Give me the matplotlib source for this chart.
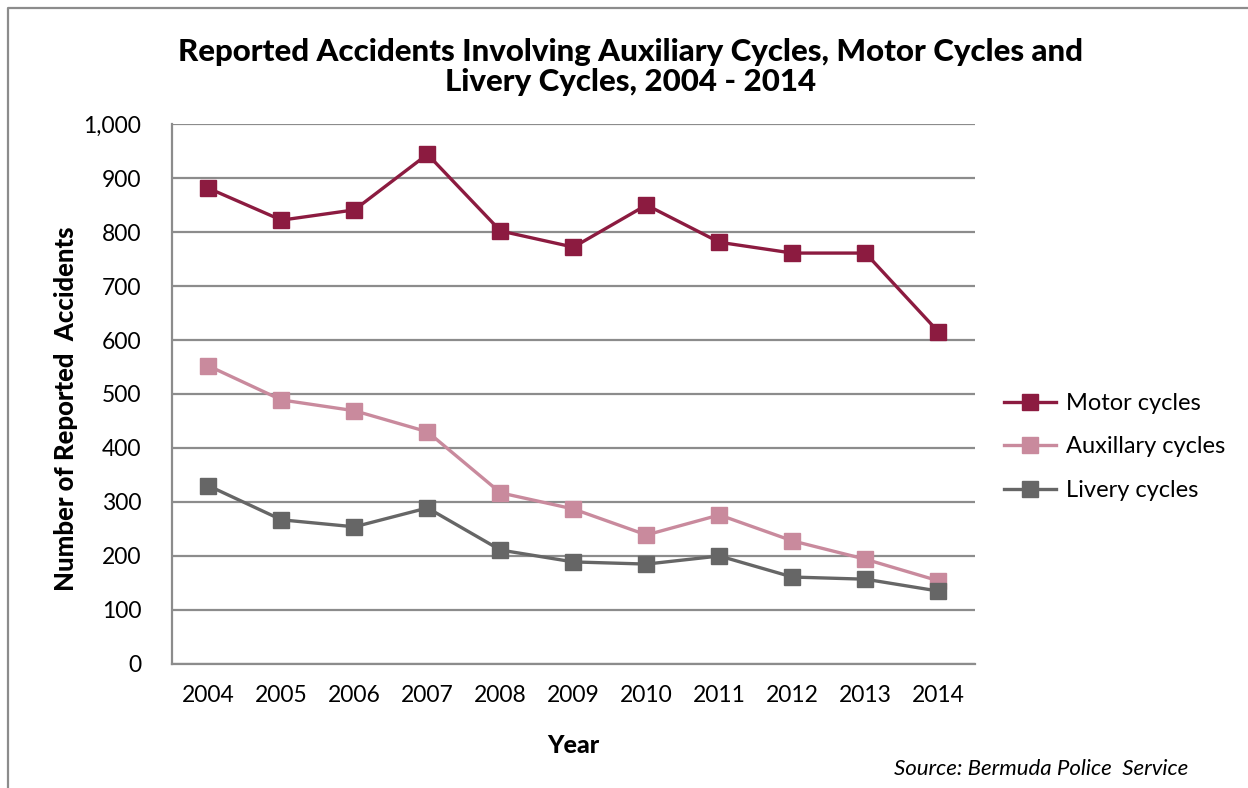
import numpy as np
import matplotlib.pyplot as plt
from matplotlib.lines import Line2D

plt.rcParams['font.family'] = ['Lato', 'DejaVu Sans']

# data
years = ['2004', '2005', '2006', '2007', '2008', '2009', '2010', '2011', '2012', '2013', '2014']
motor = [881, 822, 841, 944, 802, 772, 850, 781, 761, 761, 615]
auxiliary = [552, 489, 469, 430, 317, 287, 239, 276, 228, 194, 154]
livery = [330, 267, 254, 289, 211, 189, 185, 200, 161, 157, 135]

series_names = ['Motor cycles', 'Auxillary cycles', 'Livery cycles']
colors = ['#8C1B40', '#C98A9D', '#666666']
grid_col = '#8C8C8C'

fig = plt.figure(figsize=(12.48, 7.88), dpi=100)
ax = fig.add_axes([0.1378, 0.1574, 0.6434, 0.6852])

x = np.arange(len(years))
for vals, name, c in zip([motor, auxiliary, livery], series_names, colors):
    ax.plot(x, vals, color=c, lw=2.4, marker='s', ms=11, mec=c, mfc=c, label=name, zorder=3)

ax.set_xlim(-0.5, len(years) - 0.5)
ax.set_ylim(0, 1000)
ax.set_yticks(range(0, 1001, 100))
ax.set_yticklabels([f'{v:,}' for v in range(0, 1001, 100)])
ax.set_xticks(x)
ax.set_xticklabels(years)
ax.tick_params(axis='both', length=0, labelsize=16.5, colors='black')
ax.tick_params(axis='x', pad=15)
ax.tick_params(axis='y', pad=22)

ax.yaxis.grid(True, color=grid_col, lw=1.6)
ax.set_axisbelow(True)
for s in ['top', 'right']:
    ax.spines[s].set_visible(False)
for s in ['left', 'bottom']:
    ax.spines[s].set_color(grid_col)
    ax.spines[s].set_linewidth(1.6)

ax.set_xlabel('Year', fontsize=18, fontweight='black', labelpad=20)
ax.set_ylabel('Number of Reported  Accidents', fontsize=18.5, fontweight='black')
ax.yaxis.set_label_coords(-0.117, 0.472)

fig.text(0.505, 0.915, 'Reported Accidents Involving Auxiliary Cycles, Motor Cycles and\nLivery Cycles, 2004 - 2014',
         ha='center', va='center', fontsize=22.5, fontweight='black', linespacing=1.1)

ax.legend(loc='center left', bbox_to_anchor=(1.01, 0.402), frameon=False, fontsize=17,
          handlelength=2.2, labelspacing=0.95, handletextpad=0.4)

fig.text(0.952, 0.024, 'Source: Bermuda Police  Service', ha='right', va='center',
         fontsize=16, style='italic')

# outer frame (left and top edges)
fig.add_artist(Line2D([0.0064, 0.0064, 1.0], [0.0, 0.99, 0.99], color='#8C8C8C', lw=1.6,
                      transform=fig.transFigure))

fig.savefig('out.png', dpi=100, facecolor='white')
